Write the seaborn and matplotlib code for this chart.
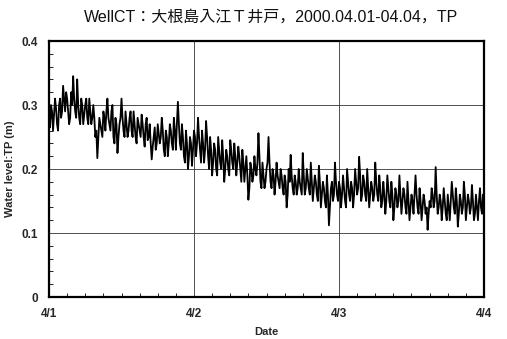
import numpy as np
import pandas as pd
import matplotlib
matplotlib.use("Agg")
import matplotlib.pyplot as plt
import seaborn as sns
from matplotlib.ticker import MultipleLocator

# Water level (m, TP) on the hour marks :00/:20/:40, 2000-04-01 00:00 to 2000-04-04 00:00
day1 = [0.28, 0.30, 0.26, 0.31, 0.27, 0.30, 0.28, 0.33, 0.29, 0.31, 0.27, 0.32,
        0.345, 0.29, 0.34, 0.28, 0.31, 0.27, 0.30, 0.28, 0.31, 0.27, 0.30, 0.25,
        0.217, 0.28, 0.26, 0.29, 0.26, 0.31, 0.27, 0.29, 0.25, 0.28, 0.225, 0.27,
        0.31, 0.26, 0.29, 0.25, 0.28, 0.26, 0.29, 0.25, 0.28, 0.26, 0.285, 0.25,
        0.27, 0.245, 0.27, 0.215, 0.25, 0.23, 0.27, 0.24, 0.28, 0.23, 0.26, 0.22,
        0.27, 0.24, 0.28, 0.23, 0.305, 0.24, 0.27, 0.22, 0.26, 0.20, 0.25, 0.205]
day2 = [0.26, 0.22, 0.28, 0.23, 0.26, 0.21, 0.275, 0.22, 0.25, 0.19, 0.24, 0.20,
        0.25, 0.21, 0.245, 0.18, 0.23, 0.20, 0.245, 0.21, 0.24, 0.19, 0.235, 0.20,
        0.23, 0.18, 0.22, 0.152, 0.21, 0.18, 0.22, 0.19, 0.256, 0.18, 0.21, 0.17,
        0.20, 0.25, 0.18, 0.20, 0.16, 0.21, 0.18, 0.20, 0.17, 0.19, 0.14, 0.20,
        0.222, 0.17, 0.19, 0.16, 0.20, 0.17, 0.225, 0.16, 0.20, 0.17, 0.21, 0.15,
        0.19, 0.16, 0.205, 0.14, 0.18, 0.15, 0.19, 0.112, 0.17, 0.15, 0.21, 0.16]
day3 = [0.18, 0.14, 0.19, 0.15, 0.20, 0.16, 0.18, 0.14, 0.20, 0.16, 0.219, 0.15,
        0.19, 0.16, 0.20, 0.14, 0.18, 0.15, 0.21, 0.16, 0.19, 0.14, 0.18, 0.13,
        0.19, 0.15, 0.18, 0.12, 0.17, 0.14, 0.19, 0.13, 0.17, 0.14, 0.18, 0.12,
        0.16, 0.13, 0.19, 0.14, 0.17, 0.12, 0.16, 0.13, 0.105, 0.15, 0.17, 0.14,
        0.203, 0.13, 0.16, 0.12, 0.17, 0.13, 0.16, 0.12, 0.18, 0.14, 0.17, 0.11,
        0.16, 0.13, 0.18, 0.12, 0.16, 0.13, 0.175, 0.12, 0.16, 0.12, 0.17, 0.13,
        0.15]

# Intermediate readings (:10/:30/:50)
day1_mid = [0.265, 0.29, 0.285, 0.295, 0.26, 0.31, 0.29, 0.31, 0.32, 0.29, 0.28, 0.30,
            0.31, 0.28, 0.30, 0.27, 0.30, 0.285, 0.31, 0.27, 0.29, 0.28, 0.28, 0.26,
            0.25, 0.27, 0.25, 0.28, 0.29, 0.28, 0.26, 0.30, 0.24, 0.27, 0.25, 0.28,
            0.28, 0.25, 0.27, 0.26, 0.29, 0.25, 0.27, 0.24, 0.27, 0.25, 0.27, 0.235,
            0.28, 0.25, 0.24, 0.235, 0.265, 0.24, 0.255, 0.25, 0.26, 0.22, 0.25, 0.24,
            0.26, 0.23, 0.26, 0.27, 0.27, 0.23, 0.25, 0.21, 0.24, 0.22, 0.24, 0.23]
day2_mid = [0.25, 0.24, 0.25, 0.21, 0.24, 0.23, 0.25, 0.20, 0.23, 0.21, 0.23, 0.19,
            0.23, 0.20, 0.22, 0.20, 0.22, 0.19, 0.23, 0.20, 0.22, 0.21, 0.22, 0.18,
            0.21, 0.20, 0.19, 0.17, 0.20, 0.19, 0.20, 0.21, 0.22, 0.17, 0.19, 0.18,
            0.21, 0.21, 0.17, 0.19, 0.18, 0.19, 0.17, 0.19, 0.16, 0.18, 0.16, 0.18,
            0.19, 0.16, 0.18, 0.17, 0.18, 0.16, 0.19, 0.17, 0.185, 0.16, 0.18, 0.17,
            0.18, 0.15, 0.18, 0.16, 0.17, 0.14, 0.16, 0.14, 0.18, 0.16, 0.18, 0.15]
day3_mid = [0.17, 0.16, 0.17, 0.14, 0.18, 0.15, 0.17, 0.16, 0.18, 0.17, 0.19, 0.16,
            0.18, 0.15, 0.17, 0.16, 0.17, 0.16, 0.18, 0.15, 0.17, 0.15, 0.16, 0.15,
            0.17, 0.14, 0.16, 0.14, 0.16, 0.15, 0.16, 0.15, 0.16, 0.13, 0.15, 0.14,
            0.15, 0.16, 0.16, 0.13, 0.15, 0.14, 0.15, 0.14, 0.13, 0.14, 0.16, 0.15,
            0.16, 0.14, 0.15, 0.14, 0.15, 0.12, 0.14, 0.15, 0.16, 0.13, 0.15, 0.13,
            0.15, 0.14, 0.16, 0.14, 0.15, 0.14, 0.15, 0.13, 0.14, 0.15, 0.14, 0.16]

date_ticks = [0, 24, 48, 72]
date_labels = ["4/1", "4/2", "4/3", "4/4"]
y_ticks = [0, 0.1, 0.2, 0.3, 0.4]
y_labels = ["0", "0.1", "0.2", "0.3", "0.4"]
title = "WellCT：大根島入江Ｔ井戸，2000.04.01-04.04，TP"

main = day1 + day2 + day3
mids = day1_mid + day2_mid + day3_mid
level = []
for i, v in enumerate(main):
    level.append(v)
    if i < len(mids):
        level.append(mids[i])
hours = np.arange(len(level)) * (72.0 / (len(level) - 1))
df = pd.DataFrame({"hour": hours, "level": level})

sns.set_theme(style="white")
plt.rcParams["font.family"] = ["Liberation Sans", "Noto Sans CJK JP", "DejaVu Sans"]

fig = plt.figure(figsize=(5.07, 3.39), dpi=100)
ax = fig.add_axes([49 / 507, 42 / 339, 435 / 507, 256 / 339])

sns.lineplot(data=df, x="hour", y="level", ax=ax, color="black", linewidth=1.3)

ax.set_xlim(0, 72)
ax.set_ylim(0, 0.4)
ax.set_xticks(date_ticks)
ax.set_xticklabels(date_labels, fontsize=8.5, fontweight="bold")
ax.set_yticks(y_ticks)
ax.set_yticklabels(y_labels, fontsize=8.5, fontweight="bold")
ax.xaxis.set_minor_locator(MultipleLocator(3))
ax.yaxis.set_minor_locator(MultipleLocator(0.02))
ax.tick_params(axis="both", which="major", length=0, pad=8)
ax.tick_params(axis="y", which="major", pad=8)
ax.tick_params(axis="both", which="minor", direction="in", length=3, width=0.6,
               color="black", bottom=True, left=True)
ax.grid(True, which="major", color="#333333", linewidth=0.6)
for s in ax.spines.values():
    s.set_color("black")
    s.set_linewidth(1.6)

ax.set_xlabel("Date", fontsize=8, fontweight="bold", labelpad=5)
ax.set_ylabel("Water level:TP (m)", fontsize=8, fontweight="bold")
ax.yaxis.set_label_coords(-0.078, 0.5)
fig.text(0.535, 0.95, title, ha="center", va="center", fontsize=11.5,
         family=["Liberation Sans", "Noto Sans CJK JP", "DejaVu Sans"], color="#111111")

fig.savefig("out.png", dpi=100)
